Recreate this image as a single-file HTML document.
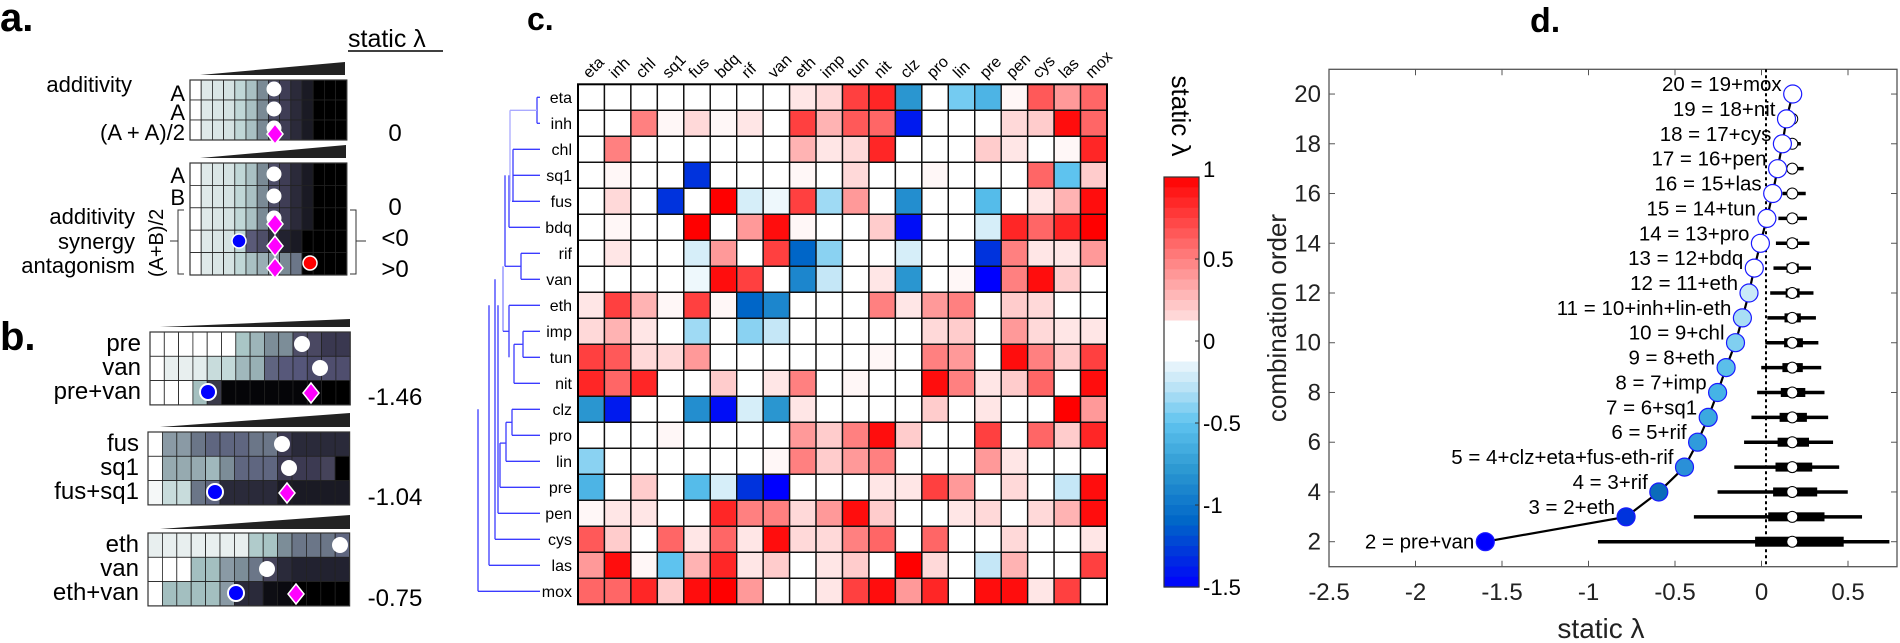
<!DOCTYPE html>
<html><head><meta charset="utf-8">
<style>
html,body{margin:0;padding:0;background:#fff;}
svg{display:block;font-family:"Liberation Sans",Arial,sans-serif;}
</style></head>
<body>
<svg id="s" width="1900" height="643" viewBox="0 0 1900 643" xmlns="http://www.w3.org/2000/svg"></svg>
<script>
var o=[];
function R(x,y,w,h,f,extra){o.push('<rect x="'+x+'" y="'+y+'" width="'+w+'" height="'+h+'" fill="'+f+'" '+(extra||'')+'/>');}
function T(x,y,t,sz,anc,extra){o.push('<text x="'+x+'" y="'+y+'" font-size="'+sz+'" text-anchor="'+(anc||'start')+'" '+(extra||'')+'>'+t+'</text>');}
function L(x1,y1,x2,y2,c,w,extra){o.push('<line x1="'+x1+'" y1="'+y1+'" x2="'+x2+'" y2="'+y2+'" stroke="'+c+'" stroke-width="'+w+'" '+(extra||'')+'/>');}
function C(x,y,r,f,s,sw){o.push('<circle cx="'+x+'" cy="'+y+'" r="'+r+'" fill="'+f+'" stroke="'+(s||'none')+'" stroke-width="'+(sw||1)+'"/>');}
function D(x,y,f){o.push('<polygon points="'+x+','+(y-10)+' '+(x+8)+','+y+' '+x+','+(y+10)+' '+(x-8)+','+y+'" fill="'+(f||'#ff00ff')+'" stroke="#fff" stroke-width="1.5"/>');}
function wedge(x1,x2,yb,h){o.push('<polygon points="'+x1+','+yb+' '+x2+','+(yb-h)+' '+x2+','+yb+'" fill="#222"/>');}

/* ---------- panel a ---------- */
T(0,31,'a.',40,'start','font-weight="bold"');
T(348,47,'static λ',25);L(348,51,443,51,'#000',1.5);
function grid(x,y,cw,rh,rows){
  for(var r=0;r<rows.length;r++)for(var c=0;c<rows[r].length;c++)R(x+c*cw,y+r*rh,cw,rh,rows[r][c],'stroke="#222" stroke-width="0.8"');
  R(x,y,cw*rows[0].length,rh*rows.length,'none','stroke="#333" stroke-width="1.2"');
}
var ga=['#ffffff','#dfe9e9','#dae6e6','#d5e3e3','#c0d7d7','#a9c0c3','#7a8a95','#4e4e68','#3f3d55','#2b2a3a','#1a1a24','#000','#000','#000'];
wedge(200,345,75,13);
grid(190,80,11.2,20,[ga,ga,ga]);
C(274,89,7,'#fff','#fff');C(274,109,7,'#fff','#fff');C(274,128,7,'#fff','#fff');D(275,134);
T(132,92,'additivity',22,'end');
T(185,101,'A',22,'end');T(185,120,'A',22,'end');T(185,140,'(A + A)/2',22,'end');
T(395,141,'0',24,'middle');
wedge(200,346,158,13);
var syn=['#ffffff','#dfe9e9','#dae6e6','#d5e3e3','#c0d7d7','#5a5a78','#4e4e68','#2b2a3a','#222230','#1a1a24','#000','#000','#000','#000'];
var ant=['#ffffff','#dfe9e9','#dae6e6','#d5e3e3','#c0d7d7','#a9c0c3','#9aaeb5','#8a9aa5','#7a8a95','#6b7688','#000','#000','#000','#000'];
grid(190,163,11.2,22.4,[ga,ga,ga,syn,ant]);
C(274,174,7,'#fff','#fff');C(274,196,7,'#fff','#fff');C(274,218,7,'#fff','#fff');
D(275,224);D(275,246);D(275,268);
C(239,241,7,'#0000ff','#fff',1.5);C(310,263,7,'#ff0000','#fff',1.5);
T(185,183,'A',22,'end');T(185,205,'B',22,'end');
T(135,224,'additivity',22,'end');T(135,249,'synergy',22,'end');T(135,273,'antagonism',22,'end');
T(0,0,'(A+B)/2',20,'middle','transform="translate(163,243) rotate(-90)"');
o.push('<path d="M184,210 L178,210 L178,274 L184,274 M178,241 L170,241" fill="none" stroke="#333" stroke-width="1"/>');
o.push('<path d="M350,210 L356,210 L356,274 L350,274 M356,241 L366,241" fill="none" stroke="#333" stroke-width="1"/>');
T(395,215,'0',24,'middle');T(395,246,'&lt;0',24,'middle');T(395,277,'&gt;0',24,'middle');

/* ---------- panel b ---------- */
T(0,350,'b.',40,'start','font-weight="bold"');
var W='#ffffff';
var b1=[[W,W,W,W,W,W,'#a9c6c6','#9db5b9','#7c8d98','#7c8d98','#4f4e68','#4a4862','#3a3850','#3a3850'],
[W,'#e8efef','#e8efef','#e3eded','#c8dcdc','#c3d9d9','#a0b8bc','#98b0b5','#5f6480','#57587a','#55567a','#4a4a6a','#4f4e6e','#4f4e6e'],
[W,W,W,'#a5c0c0','#3a3a4a','#050508','#050508','#050508','#050508','#050508','#050508','#050508','#000','#000']];
wedge(160,350,327,8);grid(150,332,14.3,24.3,[b1[0],b1[1],b1[2]]);
C(302,344,8,'#fff');C(320,368,8,'#fff');C(208,392,8,'#0000ff','#fff',2);D(311,393);
T(141,351,'pre',24,'end');T(141,375,'van',24,'end');T(141,399,'pre+van',24,'end');
T(395,405,'-1.46',24,'middle');
var b2=[[W,'#8a9aa5','#8a9aa5','#6b7688','#5f6680','#5f6680','#5f6680','#6b7688','#6b7688','#3c3a52','#2a2a3a','#2a2a3a','#2a2a3a','#2a2a3a'],
[W,'#96aab0','#96aab0','#96aab0','#a0b8bc','#7c8d98','#5f6680','#5f6680','#5f6680','#3c3a52','#3c3a52','#3c3a52','#45435a','#000'],
['#f5f8f8','#c8dcdc','#c8dcdc','#6b7688','#5f6680','#2a2a3a','#2a2a3a','#2a2a3a','#2a2a3a','#1a1a24','#1a1a24','#1a1a24','#1a1a24','#1a1a24']];
wedge(160,350,427,14);grid(148,432,14.4,24.3,b2);
C(282,444,8,'#fff');C(289,468,8,'#fff');C(215,492,8,'#0000ff','#fff',2);D(287,493);
T(139,451,'fus',24,'end');T(139,475,'sq1',24,'end');T(139,499,'fus+sq1',24,'end');
T(395,505,'-1.04',24,'middle');
var e='#e8efef';
var b3=[[e,e,e,e,e,e,e,'#b0cbcb','#a8c4c4','#7c8d98','#6b7688','#6b7688','#6b7688','#5f6680'],
[W,W,W,'#a3bfc0','#a3bfc0','#8a9aa5','#7c8d98','#6b7688','#45435a','#2a2a3a','#222230','#222230','#222230','#222230'],
[W,'#a3bfc0','#a3bfc0','#a3bfc0','#a3bfc0','#8a9aa5','#2a2a3a','#2a2a3a','#0e0e14','#0a0a10','#000','#000','#000','#000']];
wedge(160,350,529,14);grid(148,533,14.4,24.3,b3);
C(340,545,8,'#fff');C(267,569,8,'#fff');C(236,593,8,'#0000ff','#fff',2);D(296,594);
T(139,552,'eth',24,'end');T(139,576,'van',24,'end');T(139,600,'eth+van',24,'end');
T(395,606,'-0.75',24,'middle');

/* ---------- panel c ---------- */
T(527,30,'c.',32,'start','font-weight="bold"');
var names=['eta','inh','chl','sq1','fus','bdq','rif','van','eth','imp','tun','nit','clz','pro','lin','pre','pen','cys','las','mox'];
var M=[
[0,0,0,0,0,0,0,0,0.1,0.15,0.75,0.85,-0.8,0,-0.45,-0.6,0.03,0.65,0.4,0.6],
[0,0,0.5,0.03,0.15,0.03,0.1,0,0.75,0.3,0.65,0.6,-1.4,0,0,0,0.15,0.2,0.95,0.6],
[0,0.5,0,0,0,0,0,0,0.3,0.1,0.15,0.85,0,0,0,0.2,0.1,0,0.03,0.85],
[0,0.03,0,0,-1.3,0,0,0,0.03,0,0.15,0,0,0.03,0,0,0,0.6,-0.5,0.2],
[0,0.15,0,-1.3,0,1,-0.2,-0.1,0.75,-0.35,0.4,0,-0.85,0,0,-0.55,0,0.1,0.3,0.95],
[0,0.03,0,0,1,0,0.4,0.95,0.03,0,0,0.2,-1.45,0,0,-0.2,0.85,0.6,0.85,1],
[0,0.1,0,0,-0.2,0.4,0,0.75,-1.1,-0.4,0,0,-0.2,0,0,-1.3,0.5,0.1,0.1,0.4],
[0,0,0,0,-0.1,0.95,0.75,0,-0.9,-0.25,0,0.1,-0.8,0,0.03,-1.5,0.5,0.95,0.2,0],
[0.1,0.75,0.3,0.03,0.75,0.03,-1.1,-0.9,0,0,0,0.5,0.1,0.4,0.5,0,0.2,0.15,0,0],
[0.15,0.3,0.1,0,-0.35,0,-0.4,-0.25,0,0,0,0,0,0.15,0.2,0,0.4,0.15,0.1,0.1],
[0.75,0.65,0.15,0.15,0.4,0,0,0,0,0,0,0.03,0,0.5,0.4,0,0.95,0.5,0.2,0.75],
[0.85,0.6,0.85,0,0,0.2,0,0.1,0.5,0,0.03,0,0,0.95,0.5,0.1,0.2,0.6,0,0.95],
[-0.8,-1.4,0,0,-0.85,-1.45,-0.2,-0.8,0.1,0,0,0,0,0.2,0,0.1,0,0,1,0.4],
[0,0,0,0.03,0,0,0,0,0.4,0.2,0.5,0.95,0.2,0,0,0.75,0,0.6,0.2,0.85],
[-0.4,0,0,0,0,0,0,0.03,0.5,0.2,0.4,0.5,0,0,0,0.4,0.1,0,0,0],
[-0.6,0,0.2,0,-0.55,-0.2,-1.3,-1.5,0,0,0,0.1,0.1,0.75,0.4,0,0.15,0,-0.25,0.95],
[0.03,0.1,0.1,0,0,0.85,0.5,0.5,0.15,0.4,0.95,0.2,0,0,0.1,0.15,0,0.15,0.3,0.95],
[0.65,0.2,0,0.6,0.1,0.6,0.1,0.95,0.15,0.15,0.5,0.6,0,0.6,0,0,0.15,0,0,0.1],
[0.4,0.95,0.03,-0.5,0.3,0.85,0.1,0.2,0,0.1,0.2,0,1,0.15,0,-0.25,0.3,0,0,0.75],
[0.6,0.6,0.85,0.2,0.95,1,0.4,0,0,0.1,0.75,0.95,0.4,0.85,0,0.95,0.95,0.1,0.75,0]];
var negS=[[0,[255,255,255]],[-0.15,[230,244,251]],[-0.3,[181,225,245]],[-0.5,[94,195,239]],[-0.8,[42,150,208]],[-1.1,[0,102,200]],[-1.3,[0,51,221]],[-1.5,[0,0,255]]];
function col(v){
  if(v>=0){v=Math.min(v,1);var g=Math.round(255*(1-v));return 'rgb(255,'+g+','+g+')';}
  for(var i=0;i<negS.length-1;i++){var a=negS[i],b=negS[i+1];
    if(v<=a[0]&&v>=b[0]){var t=(a[0]-v)/(a[0]-b[0]);var c=a[1].map(function(q,k){return Math.round(q+(b[1][k]-q)*t);});return 'rgb('+c.join(',')+')';}}
  return 'rgb(0,0,255)';
}
var x0=578,cw=26.45,y0=84.3,ch=26.0;
for(var r=0;r<20;r++)for(var c=0;c<20;c++)R((x0+c*cw).toFixed(2),(y0+r*ch).toFixed(2),cw.toFixed(2),ch,col(M[r][c]),'stroke="#111" stroke-width="1.4"');
R(x0,y0,cw*20,ch*20,'none','stroke="#000" stroke-width="2"');
for(var i=0;i<20;i++){
  T(572,(y0+i*ch+ch/2+5.5).toFixed(1),names[i],16,'end');
  var cx=x0+i*cw+cw/2-2;
  T(0,0,names[i],16,'start','transform="translate('+cx.toFixed(1)+',79) rotate(-45)"');
}
/* dendrogram */
function yc(i){return y0+i*ch+ch/2;}
var dc='#3b3bff';
function H(x1,x2,y,c){L(x1,y,x2,y,c||dc,1.3);}
function V(x,y1,y2,c){L(x,y1,x,y2,c||dc,1.3);}
H(537,540,yc(0));H(537,540,yc(1));V(537,yc(0),yc(1));
var nA=(yc(0)+yc(1))/2;H(510,537,nA,'#aaaaff');
H(513,540,yc(2));H(513,540,yc(3));H(512,540,yc(4));V(513,yc(2),yc(4));
H(509,540,yc(5));V(509,yc(3),yc(5));V(510,nA,yc(4),'#aaaaff');
H(521,540,yc(6));H(521,540,yc(7));V(521,yc(6),yc(7));
var nB=(yc(6)+yc(7))/2;H(505,521,nB);
V(505,yc(3),nB);
H(523,540,yc(9));H(523,540,yc(10));V(523,yc(9),yc(10));
H(514,523,(yc(9)+yc(10))/2);H(509,540,yc(8));H(514,540,yc(11));V(514,yc(9.5),yc(11));
V(509,yc(8),yc(10));
H(512,540,yc(12));H(512,540,yc(13));V(512,yc(12),yc(13));
H(506,512,yc(12.5));H(506,540,yc(14));V(506,yc(12.5),yc(14));
H(500,506,yc(13.3));H(500,540,yc(15));V(500,yc(13.3),yc(15));
V(503,nB,yc(9),'#8888ff');H(503,509,yc(9));
V(498,yc(8),yc(16));H(498,540,yc(16));
V(495,yc(7),yc(17));H(495,540,yc(17));
V(489,yc(8),yc(18));H(489,540,yc(18));
V(478,yc(12),yc(19));H(478,540,yc(19));
/* colorbar */
var cbx=1164,cbw=35,z0=341,pu=164;
for(var v=1;v>-1.5;v-=0.0625){
  var ya=z0-v*pu,yb=z0-(v-0.0625)*pu;var vm=v-0.03125;
  var vv=Math.abs(vm)<0.12?0:vm;
  R(cbx,ya.toFixed(1),cbw,(yb-ya+0.6).toFixed(1),col(vv));
}
R(cbx,z0-pu,cbw,2.5*pu,'none','stroke="#333" stroke-width="1.2"');
[[1,'1'],[0.5,'0.5'],[0,'0'],[-0.5,'-0.5'],[-1,'-1'],[-1.5,'-1.5']].forEach(function(p){
  var y=z0-p[0]*pu;L(cbx+cbw-4,y,cbx+cbw,y,'#333',1);T(cbx+cbw+4,y+(p[0]==1?0:8),p[1],22);
});
T(0,0,'static λ',26,'middle','transform="translate(1172,116) rotate(90)"');

/* ---------- panel d ---------- */
T(1530,32,'d.',34,'start','font-weight="bold"');
function px(z){return 1260+z/2.45;}
var AL=1329,AR=1897,AT=69.3,AB=566.7;
function Y(n){return 541.7-(n-2)*24.87;}
function X(v){return 1329+(v+2.5)*173;}
R(AL,AT,AR-AL,AB-AT,'none','stroke="#555" stroke-width="1.3"');
[-2.5,-2,-1.5,-1,-0.5,0,0.5].forEach(function(v){var x=X(v);L(x,AB,x,AB-6,'#555',1);L(x,AT,x,AT+6,'#555',1);T(x,600,String(v),24,'middle','fill="#222"');});
for(var n=2;n<=20;n+=2){var y=Y(n);L(AL,y,AL+6,y,'#555',1);L(AR,y,AR-6,y,'#555',1);T(1321,y+8,String(n),24,'end','fill="#222"');}
L(1766,AT,1766,AB,'#000',2,'stroke-dasharray="3,3"');
var thin=[[828,1542],[1063,1475],[1121,1440],[1162,1419],[1186,1404],[1204,1392],[1218,1383],[1228,1375],[1238,1368],[1243,1362],[1250,1356],[1258,1350],[1264,1346],[1270,1340],[1280,1337],[1285,1332],[1290,1325],[1295,1318]];
var thick=[[1213,1430],[1245,1383],[1257,1365],[1263,1353],[1268,1345],[1273,1340],[1276,1336],[1280,1330],[1284,1330],[1285,1325],[1288,1322],[1290,1320],[1292,1318],[1294,1316],[1296,1314],[1298,1312],[1300,1310],[1302,1308]];
for(var i=0;i<thin.length;i++){var y=Y(i+2);
  L(px(thin[i][0]),y,px(thin[i][1]),y,'#000',3.5);
  R(px(thick[i][0]).toFixed(1),(y-(i==0?5:4.5)),(px(thick[i][1])-px(thick[i][0])).toFixed(1),i==0?10:9,'#000');
}
for(var n=2;n<=20;n++)C(px(1304),Y(n),5.5,'#fff','#000',n>=17?1:0);
var bz=[552,897,977,1040,1072,1098,1121,1142,1165,1182,1198,1211,1226,1242,1256,1268,1280,1290,1305];
var bc=['#0000ff','#0033dd','#0b6cba','#2a90d8','#2f9bdc','#3ba9e0','#45b3e6','#5bbfea','#80cff0','#a9def5','#c9eaf8'];
var pts=bz.map(function(z,i){return px(z).toFixed(1)+','+Y(i+2).toFixed(1);}).join(' ');
o.push('<polyline points="'+pts+'" fill="none" stroke="#000" stroke-width="2.2"/>');
var lbl=['2 = pre+van','3 = 2+eth','4 = 3+rif','5 = 4+clz+eta+fus-eth-rif','6 = 5+rif','7 = 6+sq1','8 = 7+imp','9 = 8+eth','10 = 9+chl','11 = 10+inh+lin-eth','12 = 11+eth','13 = 12+bdq','14 = 13+pro','15 = 14+tun','16 = 15+las','17 = 16+pen','18 = 17+cys','19 = 18+nit','20 = 19+mox'];
for(var i=0;i<bz.length;i++){var f=i<bc.length?bc[i]:'#fff';
  C(px(bz[i]).toFixed(1),Y(i+2).toFixed(1),9,f,'#1a1aff',1.2);
  T((px(bz[i])-11).toFixed(1),(Y(i+2)+(i==0?7:-3)).toFixed(1),lbl[i],20.5,'end');
}
T(0,0,'combination order',26,'middle','transform="translate(1286,318) rotate(-90)" fill="#222"');
T(1601,638,'static λ',28,'middle','fill="#222"');

document.getElementById('s').innerHTML=o.join('');
</script>
</body></html>
